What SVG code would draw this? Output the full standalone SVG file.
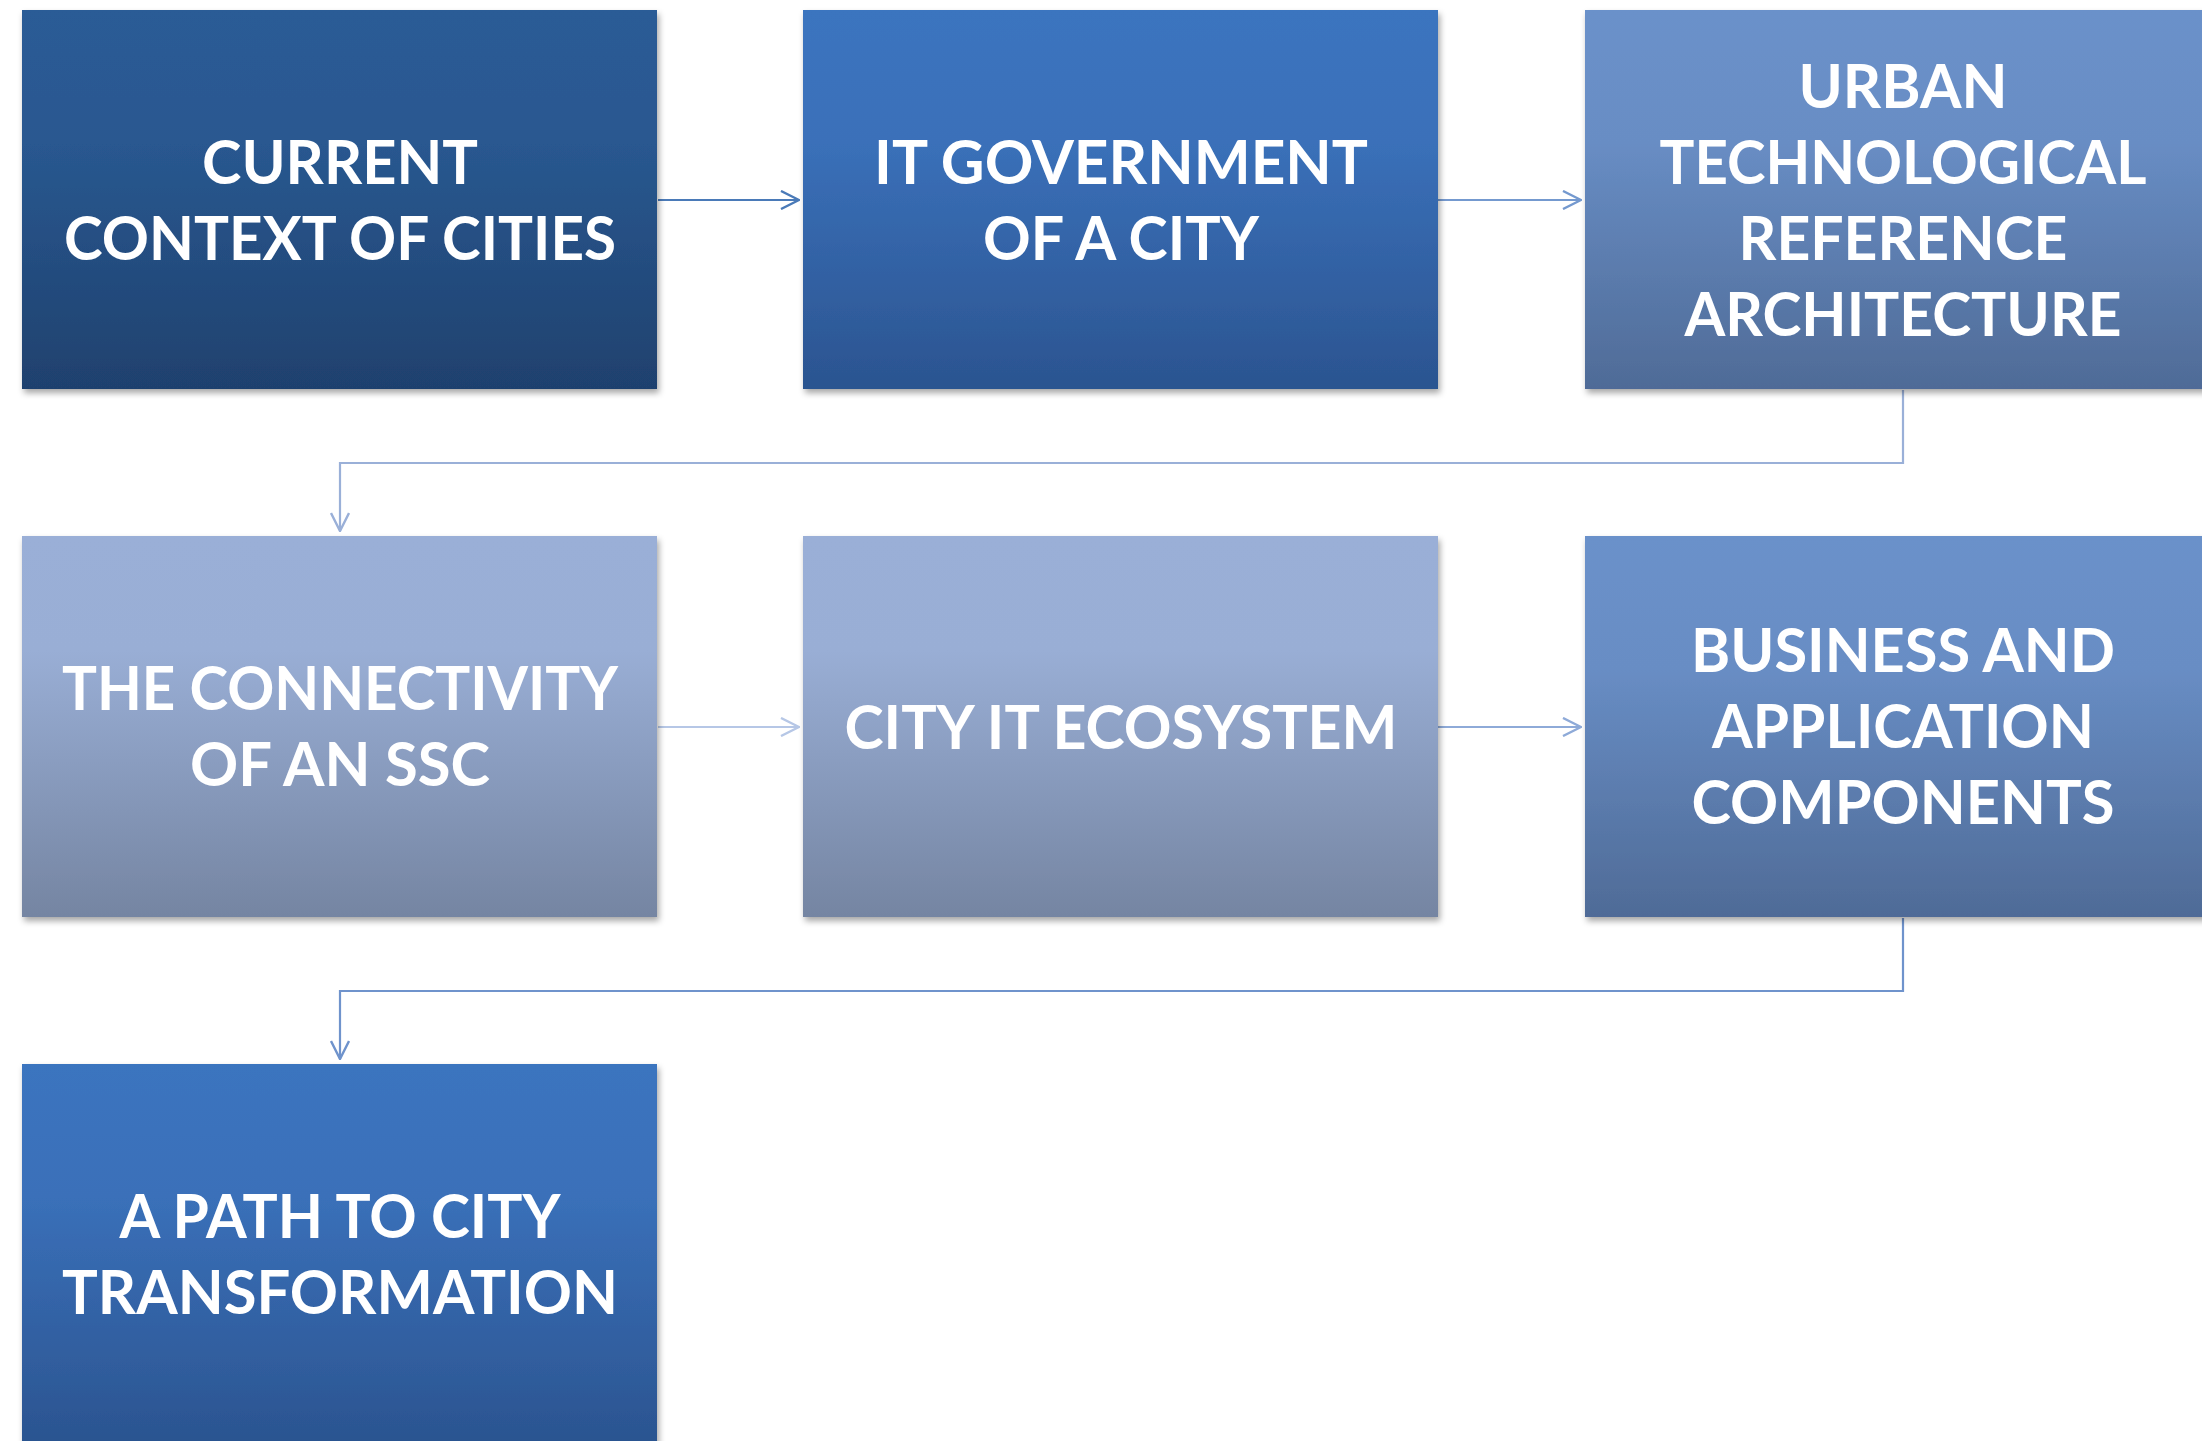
<svg xmlns="http://www.w3.org/2000/svg" width="2202" height="1441" viewBox="0 0 2202 1441">
<style>
  .lbl { font-family: Lato, "Open Sans", "Liberation Sans", sans-serif; font-weight: bold; font-size: 62px; fill: #ffffff; text-anchor: middle; }
  .box { filter: url(#shadow); }
  .con { fill: none; stroke-width: 2.2; }
</style>
<defs>
  <filter id="shadow" x="-5%" y="-5%" width="115%" height="115%">
    <feDropShadow dx="2" dy="4" stdDeviation="3" flood-color="#000000" flood-opacity="0.35"/>
  </filter>
  <linearGradient id="gDark" x1="0" y1="0" x2="0" y2="1">
    <stop offset="0" stop-color="#2b5b96"/>
    <stop offset="0.35" stop-color="#295890"/>
    <stop offset="1" stop-color="#1f416e"/>
  </linearGradient>
  <linearGradient id="gMid" x1="0" y1="0" x2="0" y2="1">
    <stop offset="0" stop-color="#3b74bf"/>
    <stop offset="0.35" stop-color="#3a70b9"/>
    <stop offset="1" stop-color="#2b5490"/>
  </linearGradient>
  <linearGradient id="gLight" x1="0" y1="0" x2="0" y2="1">
    <stop offset="0" stop-color="#6b91ca"/>
    <stop offset="0.35" stop-color="#688dc4"/>
    <stop offset="1" stop-color="#4f6b97"/>
  </linearGradient>
  <linearGradient id="gPale" x1="0" y1="0" x2="0" y2="1">
    <stop offset="0" stop-color="#9aafd7"/>
    <stop offset="0.3" stop-color="#99aed5"/>
    <stop offset="1" stop-color="#7585a2"/>
  </linearGradient>
  <marker id="a1" viewBox="0 0 20 20" refX="19" refY="10" markerWidth="20" markerHeight="20" markerUnits="userSpaceOnUse" orient="auto">
    <path d="M1,1 L19,10 L1,19" fill="none" stroke="#4a7ab8" stroke-width="2.4"/>
  </marker>
  <marker id="a2" viewBox="0 0 20 20" refX="19" refY="10" markerWidth="20" markerHeight="20" markerUnits="userSpaceOnUse" orient="auto">
    <path d="M1,1 L19,10 L1,19" fill="none" stroke="#7499cf" stroke-width="2.4"/>
  </marker>
  <marker id="a3" viewBox="0 0 20 20" refX="19" refY="10" markerWidth="20" markerHeight="20" markerUnits="userSpaceOnUse" orient="auto">
    <path d="M1,1 L19,10 L1,19" fill="none" stroke="#9ab0d8" stroke-width="2.4"/>
  </marker>
  <marker id="a4" viewBox="0 0 20 20" refX="19" refY="10" markerWidth="20" markerHeight="20" markerUnits="userSpaceOnUse" orient="auto">
    <path d="M1,1 L19,10 L1,19" fill="none" stroke="#b6c7e6" stroke-width="2.4"/>
  </marker>
  <marker id="a5" viewBox="0 0 20 20" refX="19" refY="10" markerWidth="20" markerHeight="20" markerUnits="userSpaceOnUse" orient="auto">
    <path d="M1,1 L19,10 L1,19" fill="none" stroke="#8eaad8" stroke-width="2.4"/>
  </marker>
  <marker id="a6" viewBox="0 0 20 20" refX="19" refY="10" markerWidth="20" markerHeight="20" markerUnits="userSpaceOnUse" orient="auto">
    <path d="M1,1 L19,10 L1,19" fill="none" stroke="#6f93cc" stroke-width="2.4"/>
  </marker>
</defs>
<rect width="2202" height="1441" fill="#ffffff"/>

<g id="connectors">
  <path class="con" stroke="#4a7ab8" d="M658,200 H799" marker-end="url(#a1)"/>
  <path class="con" stroke="#7499cf" d="M1438,200 H1581" marker-end="url(#a2)"/>
  <path class="con" stroke="#9ab0d8" d="M1903,390 V463 H340 V531" marker-end="url(#a3)"/>
  <path class="con" stroke="#b6c7e6" d="M658,727 H799" marker-end="url(#a4)"/>
  <path class="con" stroke="#8eaad8" d="M1438,727 H1581" marker-end="url(#a5)"/>
  <path class="con" stroke="#6f93cc" d="M1903,918 V991 H340 V1059" marker-end="url(#a6)"/>
</g>

<g id="node-current-context">
  <rect class="box" x="22" y="10" width="635" height="379" fill="url(#gDark)"/>
  <text class="lbl" x="340" y="184" textLength="276" lengthAdjust="spacingAndGlyphs">CURRENT</text>
  <text class="lbl" x="340" y="260" textLength="552" lengthAdjust="spacingAndGlyphs">CONTEXT OF CITIES</text>
</g>

<g id="node-it-government">
  <rect class="box" x="803" y="10" width="635" height="379" fill="url(#gMid)"/>
  <text class="lbl" x="1121" y="184" textLength="494" lengthAdjust="spacingAndGlyphs">IT GOVERNMENT</text>
  <text class="lbl" x="1121" y="260" textLength="276" lengthAdjust="spacingAndGlyphs">OF A CITY</text>
</g>

<g id="node-urban-architecture">
  <rect class="box" x="1585" y="10" width="635" height="379" fill="url(#gLight)"/>
  <text class="lbl" x="1903" y="108" textLength="209" lengthAdjust="spacingAndGlyphs">URBAN</text>
  <text class="lbl" x="1903" y="184" textLength="487" lengthAdjust="spacingAndGlyphs">TECHNOLOGICAL</text>
  <text class="lbl" x="1903" y="260" textLength="329" lengthAdjust="spacingAndGlyphs">REFERENCE</text>
  <text class="lbl" x="1903" y="336" textLength="437" lengthAdjust="spacingAndGlyphs">ARCHITECTURE</text>
</g>

<g id="node-connectivity">
  <rect class="box" x="22" y="536" width="635" height="381" fill="url(#gPale)"/>
  <text class="lbl" x="340" y="710" textLength="556" lengthAdjust="spacingAndGlyphs">THE CONNECTIVITY</text>
  <text class="lbl" x="340" y="786" textLength="300" lengthAdjust="spacingAndGlyphs">OF AN SSC</text>
</g>

<g id="node-city-it-ecosystem">
  <rect class="box" x="803" y="536" width="635" height="381" fill="url(#gPale)"/>
  <text class="lbl" x="1121" y="749" textLength="553" lengthAdjust="spacingAndGlyphs">CITY IT ECOSYSTEM</text>
</g>

<g id="node-business-components">
  <rect class="box" x="1585" y="536" width="635" height="381" fill="url(#gLight)"/>
  <text class="lbl" x="1903" y="672" textLength="424" lengthAdjust="spacingAndGlyphs">BUSINESS AND</text>
  <text class="lbl" x="1903" y="748" textLength="382" lengthAdjust="spacingAndGlyphs">APPLICATION</text>
  <text class="lbl" x="1903" y="824" textLength="423" lengthAdjust="spacingAndGlyphs">COMPONENTS</text>
</g>

<g id="node-path-transformation">
  <rect class="box" x="22" y="1064" width="635" height="380" fill="url(#gMid)"/>
  <text class="lbl" x="340" y="1238" textLength="441" lengthAdjust="spacingAndGlyphs">A PATH TO CITY</text>
  <text class="lbl" x="340" y="1314" textLength="556" lengthAdjust="spacingAndGlyphs">TRANSFORMATION</text>
</g>
</svg>
